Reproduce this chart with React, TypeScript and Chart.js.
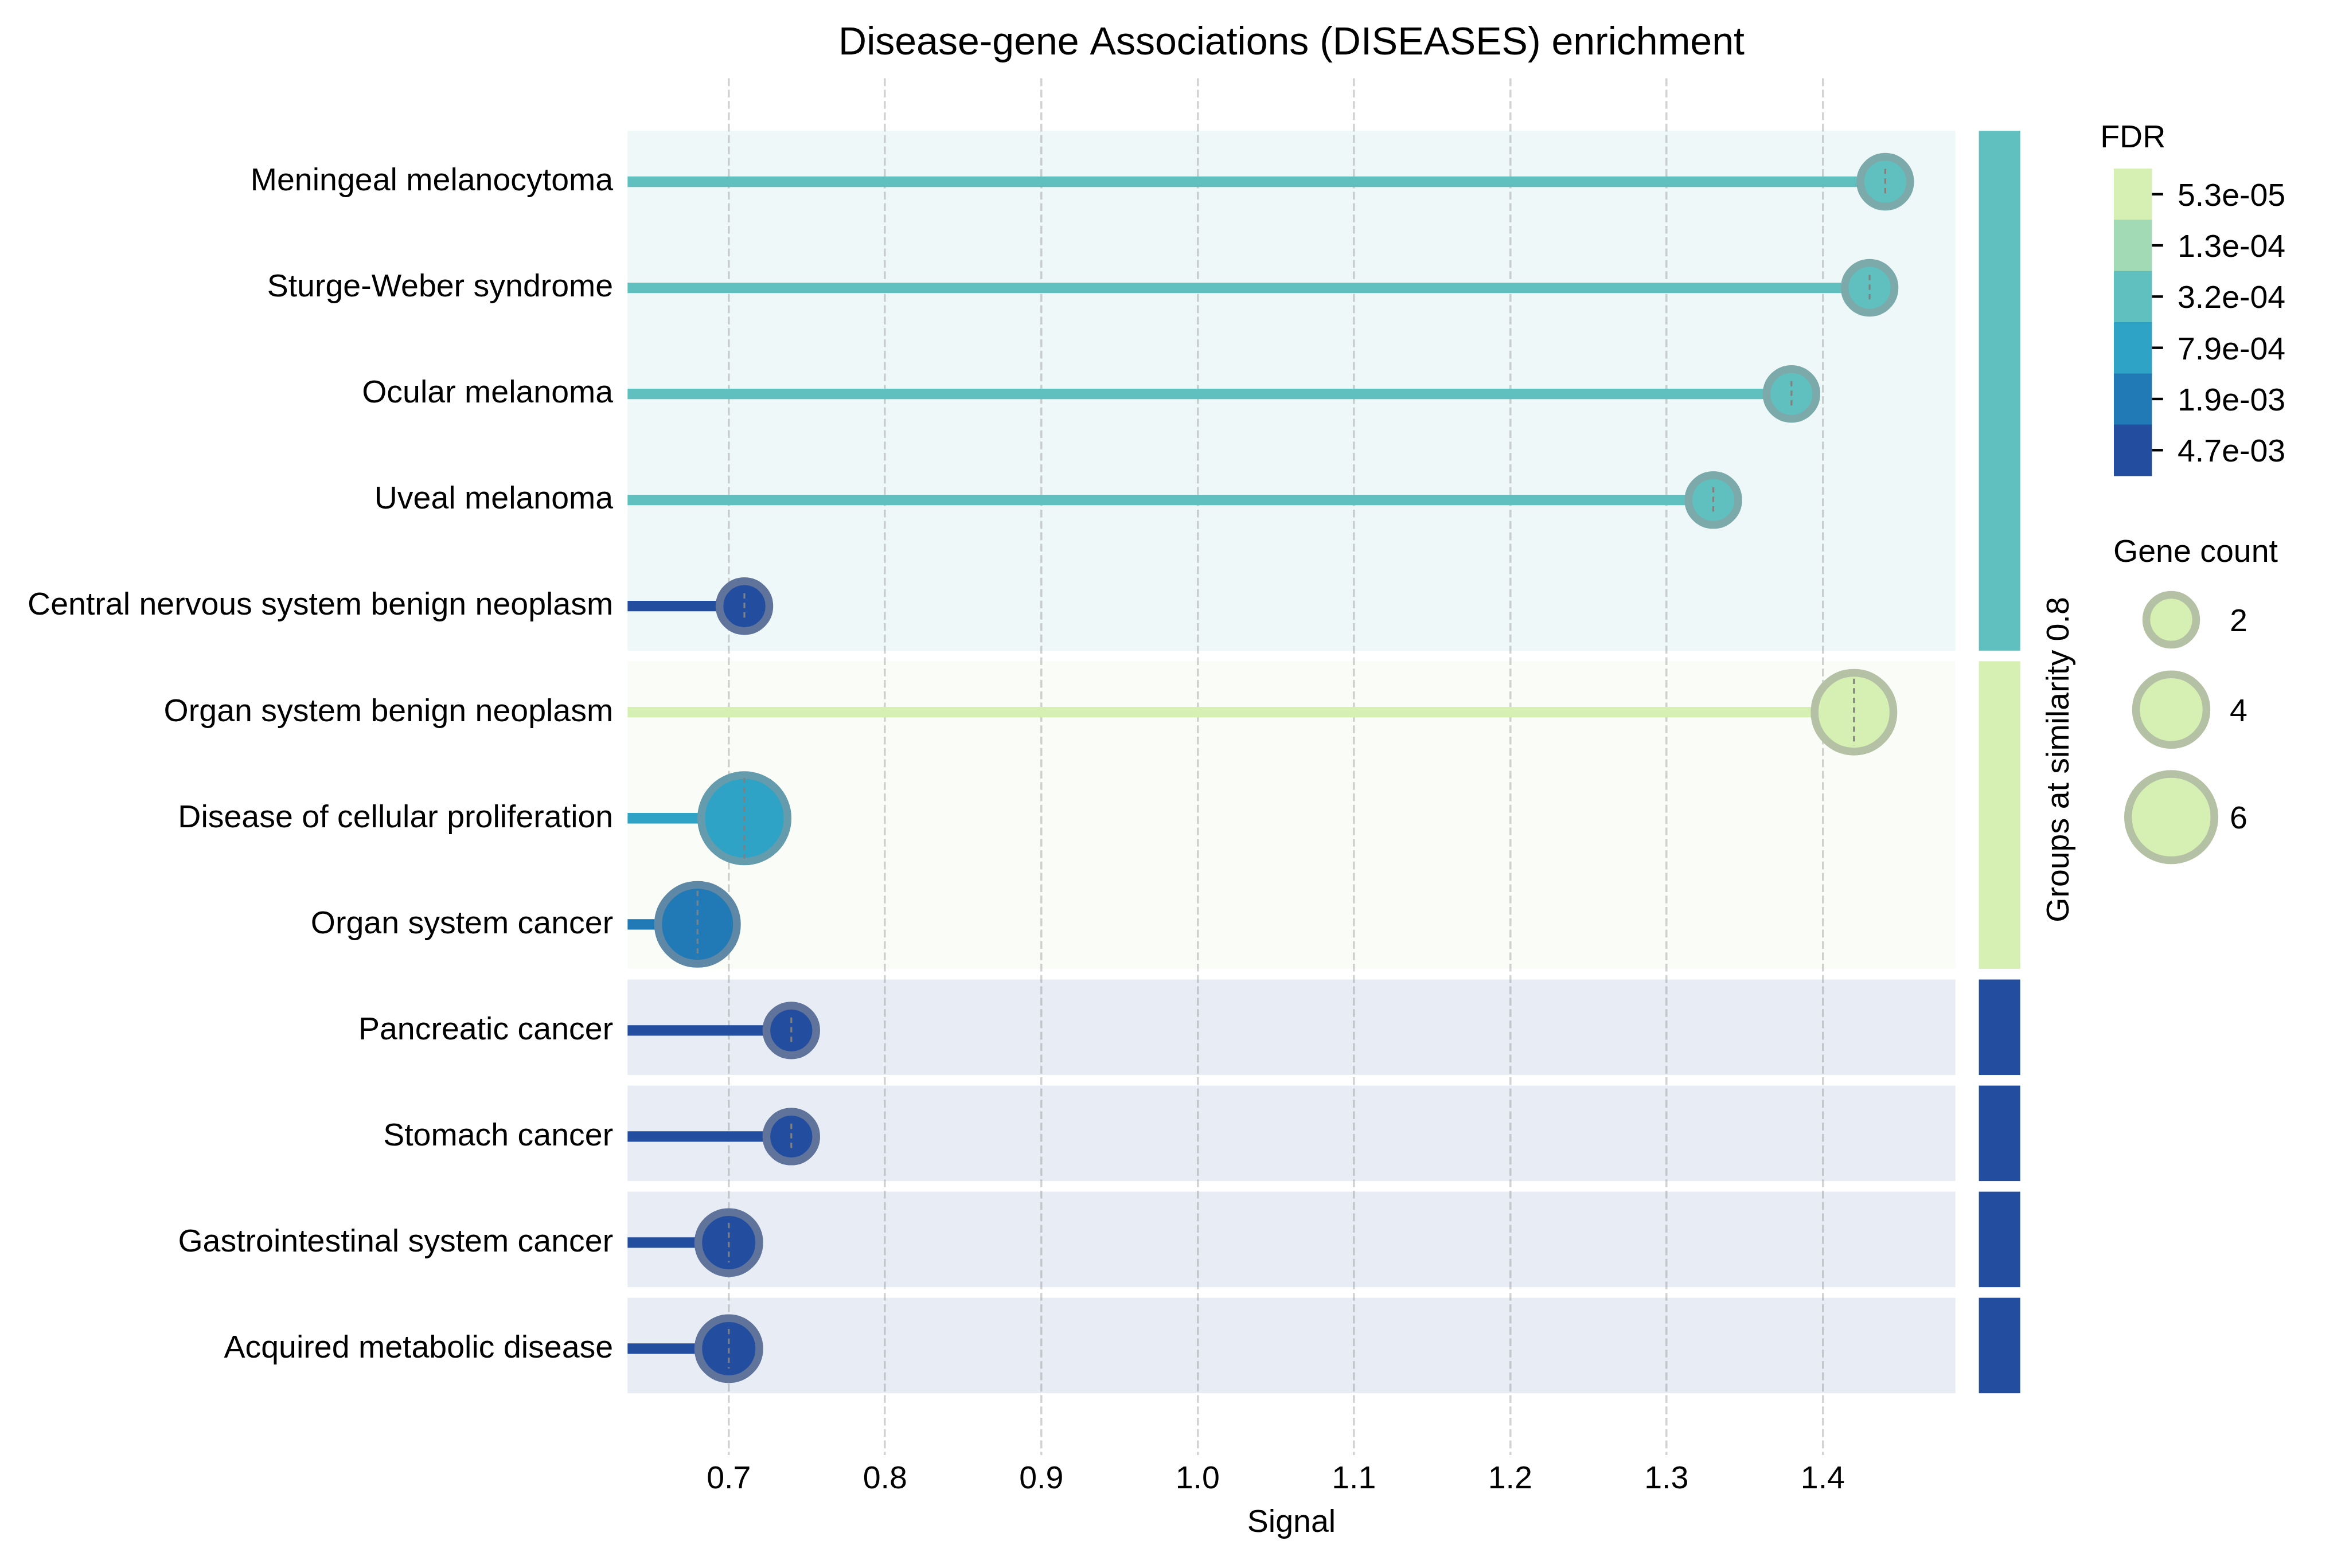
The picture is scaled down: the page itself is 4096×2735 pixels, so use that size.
import { useEffect, useRef } from "react";
import { Chart, registerables } from "chart.js";

Chart.register(...registerables);

// ---------------- data ----------------
const categories = [
  "Meningeal melanocytoma",
  "Sturge-Weber syndrome",
  "Ocular melanoma",
  "Uveal melanoma",
  "Central nervous system benign neoplasm",
  "Organ system benign neoplasm",
  "Disease of cellular proliferation",
  "Organ system cancer",
  "Pancreatic cancer",
  "Stomach cancer",
  "Gastrointestinal system cancer",
  "Acquired metabolic disease",
];
const signal = [1.44, 1.43, 1.38, 1.33, 0.71, 1.42, 0.71, 0.68, 0.74, 0.74, 0.7, 0.7];
const geneCount = [2, 2, 2, 2, 2, 5, 6, 5, 2, 2, 3, 3];
const fdr = [3.2e-4, 3.2e-4, 3.2e-4, 3.2e-4, 4.7e-3, 5.3e-5, 7.9e-4, 1.9e-3, 4.7e-3, 4.7e-3, 4.7e-3, 4.7e-3];
const groupOf = [0, 0, 0, 0, 0, 1, 1, 1, 2, 3, 4, 5];
const groupColors = ["#60c0bf", "#d6efb3", "#234ea0", "#234ea0", "#234ea0", "#234ea0"];
const fdrTicks = [5.3e-5, 1.3e-4, 3.2e-4, 7.9e-4, 1.9e-3, 4.7e-3];
const fdrTickLabels = ["5.3e-05", "1.3e-04", "3.2e-04", "7.9e-04", "1.9e-03", "4.7e-03"];
const fdrColors = ["#d6efb3", "#a1dab4", "#60c0bf", "#2ea3c5", "#2179b5", "#234ea0"];
const xTicks = [0.7, 0.8, 0.9, 1.0, 1.1, 1.2, 1.3, 1.4];
const legendCounts = [2, 4, 6];
const legendCountLabels = ["2", "4", "6"];

const TITLE = "Disease-gene Associations (DISEASES) enrichment";
const X_TITLE = "Signal";
const GROUP_TITLE = "Groups at similarity 0.8";
const FDR_TITLE = "FDR";
const COUNT_TITLE = "Gene count";

// ---------------- layout / style ----------------
const W = 4096;
const H = 2735;
const S = 0.776;
const AREA_LEFT = 1094.2;
const AREA_RIGHT = 3409.7;
const AREA_TOP = 136.6;
const AREA_BOTTOM = 2537.5;
const XMIN = 0.6352;
const XMAX = 1.4849;
const YMIN = -0.975;
const YMAX = 12.0;
const FONT = "'Liberation Sans', Arial, Helvetica, sans-serif";
const FS = 55.5;
const TITLE_FS = 68;
const MARKER_K = 39.6 * S;
const MARKER_BW = 17.4 * S;
const STEM_W = 23.6 * S;

function hexToRgb(h: string): number[] {
  const v = h.replace("#", "");
  return [0, 2, 4].map((i) => parseInt(v.slice(i, i + 2), 16));
}
function rgba(h: string, a: number) {
  const [r, g, b] = hexToRgb(h);
  return `rgba(${r},${g},${b},${a})`;
}
function edgeOf(h: string) {
  const [r, g, b] = hexToRgb(h);
  const a = 0.52;
  const gr = 150;
  const f = (c: number) => Math.round(c * (1 - a) + gr * a);
  return `rgb(${f(r)},${f(g)},${f(b)})`;
}
function fdrColor(v: number) {
  let best = 0;
  let bd = Infinity;
  fdrTicks.forEach((t, i) => {
    const d = Math.abs(Math.log(t) - Math.log(v));
    if (d < bd) {
      bd = d;
      best = i;
    }
  });
  return fdrColors[best];
}
const markerR = (c: number) => MARKER_K * Math.sqrt(c);

const rowColors = fdr.map(fdrColor);

const decorPlugin = {
  id: "decor",
  beforeDraw(chart: any) {
    const { ctx, chartArea } = chart;
    const ys = chart.scales.y;
    ctx.save();
    const groups = Array.from(new Set(groupOf));
    groups.forEach((g) => {
      const rows = groupOf.map((gg, i) => (gg === g ? i : -1)).filter((i) => i >= 0);
      const first = Math.min(...rows);
      const last = Math.max(...rows);
      const yTop = ys.getPixelForValue(first - 0.48);
      const yBot = ys.getPixelForValue(last + 0.42);
      ctx.fillStyle = rgba(groupColors[g], 0.11);
      ctx.fillRect(chartArea.left, yTop, chartArea.right - chartArea.left, yBot - yTop);
      ctx.fillStyle = groupColors[g];
      ctx.fillRect(chartArea.right + 40.9, yTop, 72.1, yBot - yTop);
    });
    ctx.restore();
  },
  afterDatasetsDraw(chart: any) {
    const { ctx } = chart;
    const meta = chart.getDatasetMeta(chart.data.datasets.length - 1);
    ctx.save();
    ctx.strokeStyle = "#808080";
    ctx.lineWidth = 3.2;
    ctx.setLineDash([9.3, 7.4]);
    meta.data.forEach((el: any, i: number) => {
      const L = S * (31 * geneCount[i] - 4);
      ctx.beginPath();
      ctx.moveTo(el.x, el.y - L / 2);
      ctx.lineTo(el.x, el.y + L / 2);
      ctx.stroke();
    });
    ctx.restore();
  },
  afterDraw(chart: any) {
    const { ctx, chartArea } = chart;
    ctx.save();
    ctx.fillStyle = "#000";
    // title
    ctx.font = `${TITLE_FS}px ${FONT}`;
    ctx.textAlign = "center";
    ctx.textBaseline = "alphabetic";
    ctx.fillText(TITLE, (chartArea.left + chartArea.right) / 2, 94.7);

    // group label (rotated)
    ctx.save();
    ctx.font = `${FS}px ${FONT}`;
    ctx.translate(3607, 1325);
    ctx.rotate(-Math.PI / 2);
    ctx.textAlign = "center";
    ctx.fillText(GROUP_TITLE, 0, 0);
    ctx.restore();

    // FDR colorbar
    const cbL = 3686;
    const cbR = 3752.4;
    const cbT = 294.1;
    const cbB = 829.9;
    const segH = (cbB - cbT) / fdrColors.length;
    ctx.font = `${FS}px ${FONT}`;
    ctx.textAlign = "center";
    ctx.fillText(FDR_TITLE, (cbL + cbR) / 2, 256.9);
    fdrColors.forEach((c, i) => {
      ctx.fillStyle = c;
      ctx.fillRect(cbL, cbT + i * segH, cbR - cbL, segH + 0.5);
    });
    ctx.strokeStyle = "#000";
    ctx.lineWidth = 4.4;
    ctx.fillStyle = "#000";
    ctx.textAlign = "left";
    fdrTickLabels.forEach((lab, i) => {
      const yc = cbT + (i + 0.5) * segH;
      ctx.beginPath();
      ctx.moveTo(cbR, yc);
      ctx.lineTo(cbR + 19.4, yc);
      ctx.stroke();
      ctx.fillText(lab, 3797, yc + 0.358 * FS);
    });

    // Gene count legend
    ctx.textAlign = "center";
    ctx.fillText(COUNT_TITLE, 3828.5, 979.8);
    const cy = [1081, 1237.7, 1425.2];
    legendCounts.forEach((c, i) => {
      ctx.beginPath();
      ctx.arc(3786, cy[i], markerR(c), 0, Math.PI * 2);
      ctx.fillStyle = fdrColors[0];
      ctx.fill();
      ctx.lineWidth = MARKER_BW;
      ctx.strokeStyle = edgeOf(fdrColors[0]);
      ctx.stroke();
      ctx.fillStyle = "#000";
      ctx.textAlign = "left";
      ctx.fillText(legendCountLabels[i], 3888, cy[i] + 0.358 * FS);
    });
    ctx.restore();
  },
};

export default function App() {
  const ref = useRef<HTMLCanvasElement>(null);
  useEffect(() => {
    const canvas = ref.current!;
    const stems = categories.map((_, i) => ({
      type: "line" as const,
      data: [
        { x: XMIN, y: i },
        { x: signal[i], y: i },
      ],
      borderColor: rowColors[i],
      borderWidth: STEM_W,
      pointRadius: 0,
      showLine: true,
      fill: false,
      order: 2,
    }));
    const bubbles = {
      type: "bubble" as const,
      data: signal.map((x, i) => ({ x, y: i, r: markerR(geneCount[i]) })),
      backgroundColor: rowColors,
      borderColor: rowColors.map(edgeOf),
      borderWidth: MARKER_BW,
      order: 1,
    };
    const chart = new Chart(canvas, {
      type: "scatter",
      data: { datasets: [...stems, bubbles] as any },
      options: {
        responsive: false,
        devicePixelRatio: 1,
        animation: false,
        events: [],
        layout: { padding: { left: 0, top: AREA_TOP, right: W - AREA_RIGHT, bottom: 0 } },
        plugins: {
          legend: { display: false },
          tooltip: { enabled: false },
          title: { display: false },
        },
        scales: {
          x: {
            type: "linear",
            min: XMIN,
            max: XMAX,
            afterFit: (s: any) => {
              s.height = H - AREA_BOTTOM;
            },
            afterBuildTicks: (s: any) => {
              s.ticks = xTicks.map((v) => ({ value: v }));
            },
            ticks: {
              callback: (v: any) => Number(v).toFixed(1),
              font: { family: FONT, size: FS },
              color: "#000",
              padding: 9.6,
              maxRotation: 0,
              autoSkip: false,
            },
            grid: { color: "rgba(128,128,128,0.35)", lineWidth: 3.6, drawTicks: false },
            border: { display: false, dash: [13.6, 6.2] },
            title: {
              display: true,
              text: X_TITLE,
              font: { family: FONT, size: FS },
              color: "#000",
              padding: { top: 0, bottom: 44.5 },
            },
          },
          y: {
            type: "linear",
            reverse: true,
            min: YMIN,
            max: YMAX,
            afterFit: (s: any) => {
              s.width = AREA_LEFT;
            },
            afterBuildTicks: (s: any) => {
              s.ticks = categories.map((_, i) => ({ value: i }));
            },
            ticks: {
              callback: (v: any) => categories[Math.round(Number(v))] ?? "",
              font: { family: FONT, size: FS },
              color: "#000",
              padding: 25,
              autoSkip: false,
            },
            grid: { display: false, drawTicks: false },
            border: { display: false },
          },
        },
      } as any,
      plugins: [decorPlugin],
    });
    return () => chart.destroy();
  }, []);
  return (
    <div style={{ position: "fixed", left: 0, top: 0, width: W, height: H, background: "#fff" }}>
      <canvas ref={ref} width={W} height={H} style={{ width: W, height: H, display: "block" }} />
    </div>
  );
}
